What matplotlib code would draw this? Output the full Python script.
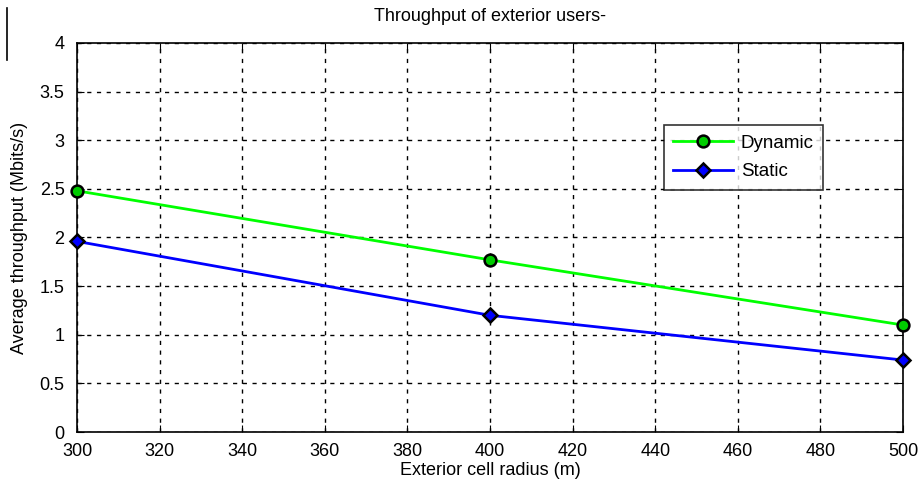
import matplotlib
matplotlib.use("Agg")
import matplotlib.pyplot as plt
from matplotlib.lines import Line2D

radius = [300, 400, 500]
dynamic = [2.48, 1.77, 1.10]
static = [1.96, 1.20, 0.74]
xticks = list(range(300, 501, 20))
yticks = [0, 0.5, 1, 1.5, 2, 2.5, 3, 3.5, 4]
ytick_labels = ["0", "0.5", "1", "1.5", "2", "2.5", "3", "3.5", "4"]

plt.rcParams['font.family'] = ['Liberation Sans', 'DejaVu Sans']

fig = plt.figure(figsize=(9.18, 4.84), dpi=100)
ax = fig.add_axes([0.0839, 0.1074, 0.8998, 0.8038])

ax.plot(radius, dynamic, color='#00ff00', lw=2, marker='o', ms=8.5,
        mfc='#00cc00', mec='black', mew=1.8, label='Dynamic', zorder=3, clip_on=False)
ax.plot(radius, static, color='#0000ff', lw=2, marker='D', ms=7.5,
        mfc='#0000ff', mec='black', mew=1.8, label='Static', zorder=3, clip_on=False)

ax.set_xlim(300, 500)
ax.set_ylim(0, 4)
ax.set_xticks(xticks)
ax.set_yticks(yticks)
ax.set_yticklabels(ytick_labels)
ax.grid(True, color='black', linestyle=(0, (3, 4)), linewidth=1)
ax.tick_params(direction='in', top=True, right=True, labelsize=13, length=5)
ax.tick_params(axis='y', pad=9)
ax.tick_params(axis='x', pad=8)
for s in ax.spines.values():
    s.set_linewidth(1.2)

ax.set_xlabel('Exterior cell radius (m)', fontsize=13, labelpad=1)
ax.set_ylabel('Average throughput (Mbits/s)', fontsize=13, labelpad=8)
ax.set_title('Throughput of exterior users-', fontsize=13, pad=16)

leg = ax.legend(loc='upper left', bbox_to_anchor=(0.699, 0.812), fontsize=13.5,
                frameon=True, fancybox=False, edgecolor='black', handlelength=3.2,
                borderpad=0.5, labelspacing=0.6, handletextpad=0.4)
leg.get_frame().set_linewidth(1.2)

fig.add_artist(Line2D([0.0076, 0.0076], [1 - 60/484, 1 - 8/484], color='black', lw=1.2))

fig.savefig('out.png', dpi=100)
